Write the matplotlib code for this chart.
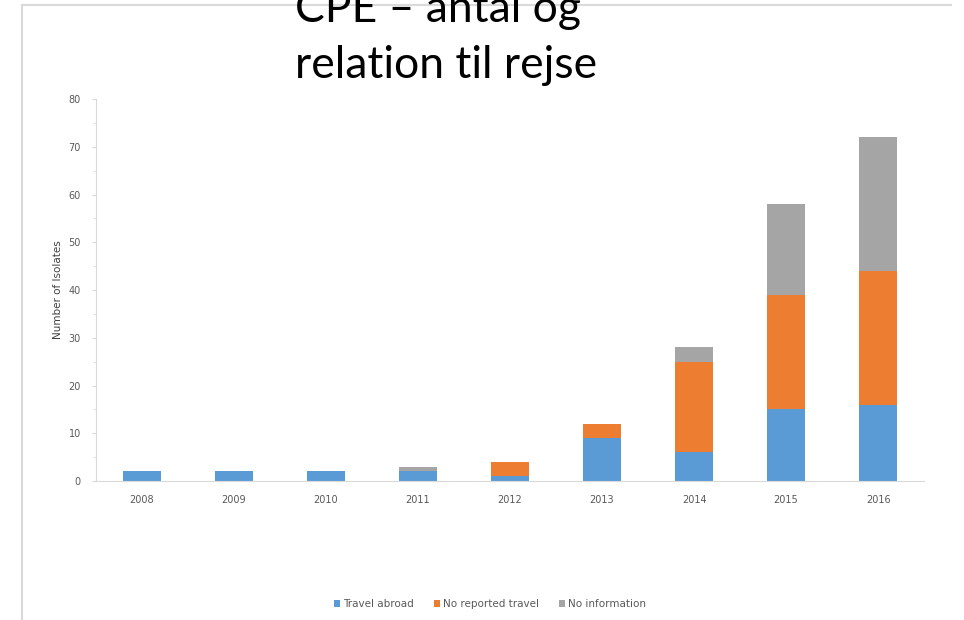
import matplotlib
matplotlib.use("Agg")
import matplotlib.pyplot as plt
from matplotlib.lines import Line2D
from matplotlib.ticker import MultipleLocator
import numpy as np

years = ["2008", "2009", "2010", "2011", "2012", "2013", "2014", "2015", "2016"]
travel_abroad = [2, 2, 2, 2, 1, 9, 6, 15, 16]
no_reported_travel = [0, 0, 0, 0, 3, 3, 19, 24, 28]
no_information = [0, 0, 0, 1, 0, 0, 3, 19, 28]
series_labels = ["Travel abroad", "No reported travel", "No information"]
series_colors = ["#5B9BD5", "#ED7D31", "#A5A5A5"]
title_lines = ["CPE \u2013 antal og", "relation til rejse"]

fig = plt.figure(figsize=(9.64, 6.2), dpi=100)
ax = fig.add_axes([0.0996, 0.2242, 0.859, 0.6161])

x = np.arange(len(years))
bottom = np.zeros(len(years))
for vals, lab, col in zip([travel_abroad, no_reported_travel, no_information], series_labels, series_colors):
    vals = np.array(vals, dtype=float)
    ax.bar(x, vals, width=0.41, bottom=bottom, color=col, label=lab, zorder=2)
    bottom += vals

ax.set_xlim(-0.5, len(years) - 0.5)
ax.set_ylim(0, 80)
ax.yaxis.set_major_locator(MultipleLocator(10))
ax.yaxis.set_minor_locator(MultipleLocator(5))
ax.set_xticks(x)
ax.set_xticklabels(years)

for side in ["top", "right"]:
    ax.spines[side].set_visible(False)
for side in ["left", "bottom"]:
    ax.spines[side].set_color("#d9d9d9")
    ax.spines[side].set_linewidth(0.8)

ax.tick_params(axis="y", which="both", colors="#d9d9d9", labelcolor="#595959", labelsize=7, length=3, pad=8)
ax.tick_params(axis="y", which="minor", length=2)
ax.tick_params(axis="x", length=0, labelcolor="#595959", labelsize=7, pad=10)
ax.set_ylabel("Number of Isolates", fontsize=7.5, color="#404040", labelpad=4)

ax.legend(loc="upper center", bbox_to_anchor=(0.476, -0.285), ncol=3, frameon=False,
          fontsize=7.5, labelcolor="#595959", handlelength=0.6, handleheight=0.6,
          handletextpad=0.3, columnspacing=1.9)

# slide title, first line runs off the top edge as in the source slide
fig.text(0.306, 0.9645, title_lines[0], fontsize=32,
         family=["Lato", "DejaVu Sans"], ha="left", va="baseline")
fig.text(0.306, 0.874, title_lines[1], fontsize=32,
         family=["Lato", "DejaVu Sans"], ha="left", va="baseline")

# slide frame lines
fig.add_artist(Line2D([0.0228, 0.9865], [0.992, 0.992], color="#d9d9d9", lw=1.5))
fig.add_artist(Line2D([0.0228, 0.0228], [0.0, 0.992], color="#d9d9d9", lw=1.5))

fig.savefig("out.png", dpi=100)
